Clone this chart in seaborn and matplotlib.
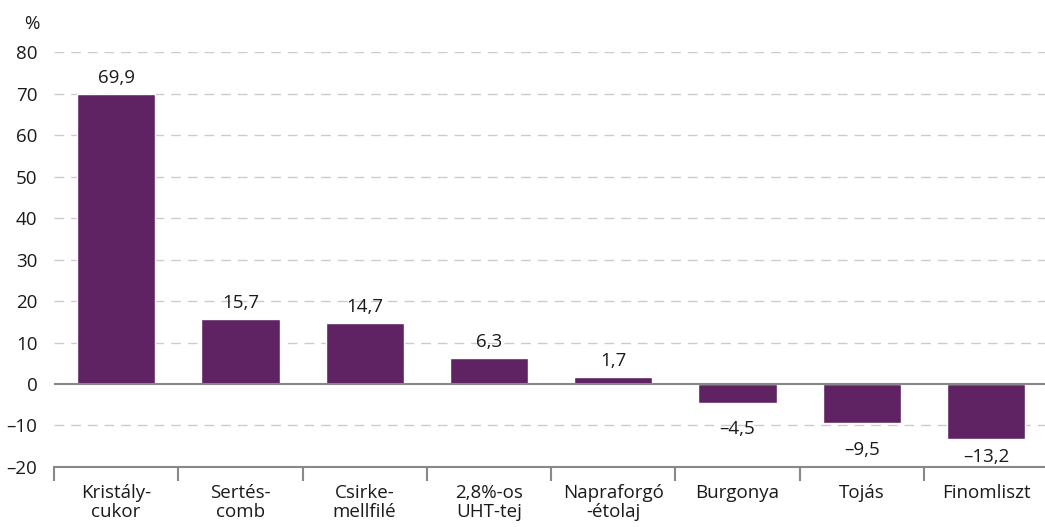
import matplotlib
matplotlib.use("Agg")
import matplotlib.pyplot as plt
import seaborn as sns
import pandas as pd

categories = ["Kristály-\ncukor", "Sertés-\ncomb", "Csirke-\nmellfilé", "2,8%-os\nUHT-tej",
              "Napraforgó\n-étolaj", "Burgonya", "Tojás", "Finomliszt"]
values = [69.9, 15.7, 14.7, 6.3, 1.7, -4.5, -9.5, -13.2]
yticks = [-20, -10, 0, 10, 20, 30, 40, 50, 60, 70, 80]

sns.set_style("white")
plt.rcParams["font.family"] = ["Open Sans", "DejaVu Sans"]

df = pd.DataFrame({"cat": categories, "val": values})

fig = plt.figure(figsize=(10.45, 5.27), dpi=100)
ax = fig.add_axes([0.0517, 0.1139, 0.9513, 0.787])

sns.barplot(data=df, x="cat", y="val", color="#5f2363", width=0.63,
            saturation=1, ax=ax, zorder=3)

ax.set_xlim(-0.5, 7.5)
ax.set_ylim(-20, 80)
ax.set_yticks(yticks)
ax.set_yticklabels([f"{t}".replace("-", "\u2013") for t in yticks], fontsize=13.5, color="#1a1a1a")
for t in yticks:
    if t in (0, -20):
        continue
    ax.axhline(t, color="#cccccc", lw=1, ls=(0, (7, 5)), zorder=1)
ax.axhline(0, color="#888888", lw=1.5, zorder=4)

for s in ["top", "right", "left"]:
    ax.spines[s].set_visible(False)
ax.spines["bottom"].set_color("#888888")
ax.spines["bottom"].set_linewidth(1.5)

ax.set_xticks([i - 0.5 for i in range(8)], minor=False)
ax.set_xticklabels([])
ax.set_xticks(range(8), minor=True)
ax.set_xticklabels(categories, minor=True, fontsize=13.5, color="#1a1a1a", linespacing=1.1)
ax.tick_params(axis="x", which="major", bottom=True, length=10, width=1.5, color="#888888", direction="out")
ax.tick_params(axis="x", which="minor", bottom=True, length=0, pad=12)
ax.tick_params(axis="y", length=0, pad=12)
ax.set_xlabel("")
ax.set_ylabel("")

# value labels: above positive bars, below negative bars (kept clear of the axis)
for i, v in enumerate(values):
    lab = f"{v:.1f}".replace(".", ",").replace("-", "\u2013")
    if v >= 0:
        ax.text(i, v + 1.6, lab, ha="center", va="bottom", fontsize=13.5, color="#1a1a1a")
    else:
        ax.text(i, max(v - 6.4, -17.6), lab, ha="center", va="center", fontsize=13.5, color="#1a1a1a")

fig.text(0.03, 0.955, "%", fontsize=13.5, color="#1a1a1a", ha="center", va="center")

fig.savefig("out.png", dpi=100)
